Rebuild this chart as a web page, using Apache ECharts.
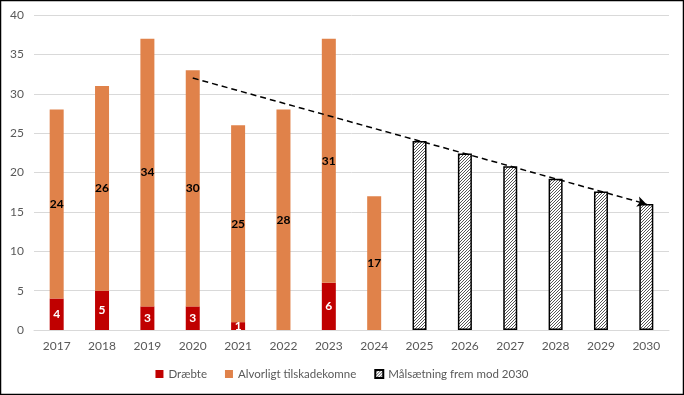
<!DOCTYPE html>
<html><head><meta charset="utf-8">
<script src="https://cdn.jsdelivr.net/npm/echarts@6/dist/echarts.min.js"></script>
<style>html,body{margin:0;padding:0;background:#fff}#c{width:684px;height:395px}</style>
</head><body><div id="c"></div>
<script>
const years = ['2017','2018','2019','2020','2021','2022','2023','2024','2025','2026','2027','2028','2029','2030'];
const killed = [4,5,3,3,1,0,6,0,null,null,null,null,null,null];
const injured = [24,26,34,30,25,28,31,17,null,null,null,null,null,null];
const target = [null,null,null,null,null,null,null,null,24,22.4,20.8,19.2,17.6,16];
const trendStart = ['2020',32];
const trendEnd = ['2030',16];
const yTicks = {min:0,max:40,interval:5};

const pc = document.createElement('canvas');
pc.width = 3; pc.height = 3;
const g = pc.getContext('2d');
g.fillStyle = '#fff'; g.fillRect(0,0,3,3);
g.strokeStyle = '#444'; g.lineWidth = 0.9;
g.beginPath();
g.moveTo(-1,4); g.lineTo(4,-1);
g.moveTo(-1,1); g.lineTo(1,-1);
g.moveTo(2,4); g.lineTo(4,2);
g.stroke();

const font = 'Lato, "Liberation Sans", sans-serif';
const chart = echarts.init(document.getElementById('c'));
chart.setOption({
  animation:false,
  textStyle:{fontFamily:font},
  graphic:[{type:'rect',shape:{x:0.5,y:0.5,width:683,height:394},style:{fill:'none',stroke:'#000',lineWidth:1.5},z:100}],
  grid:{left:34,right:15,top:15,bottom:65},
  legend:{bottom:10,left:'center',itemWidth:8,itemHeight:8,itemGap:18,
    textStyle:{fontFamily:font,fontSize:11.5,color:'#595959'},
    data:[{name:'Dræbte',icon:'rect'},{name:'Alvorligt tilskadekomne',icon:'rect'},{name:'Målsætning frem mod 2030',icon:'rect'}]},
  xAxis:{type:'category',data:years,axisTick:{show:false},
    axisLine:{lineStyle:{color:'#d9d9d9',width:1}},
    axisLabel:{color:'#595959',fontSize:12,margin:10}},
  yAxis:{type:'value',min:yTicks.min,max:yTicks.max,interval:yTicks.interval,
    axisLine:{show:false},axisTick:{show:false},
    splitLine:{lineStyle:{color:'#d9d9d9',width:1}},
    axisLabel:{color:'#595959',fontSize:12,margin:10}},
  series:[
    {name:'Dræbte',type:'bar',stack:'a',barWidth:14,data:killed,
      itemStyle:{color:'#C00000'},
      label:{show:true,position:'inside',color:'#fff',fontWeight:'bold',fontSize:12,
        formatter:p=>p.value? p.value : ''}},
    {name:'Alvorligt tilskadekomne',type:'bar',stack:'a',barWidth:14,data:injured,
      itemStyle:{color:'#E0824A'},
      label:{show:true,position:'inside',color:'#000',fontWeight:'bold',fontSize:12,
        formatter:p=>p.value? p.value : ''}},
    {name:'Målsætning frem mod 2030',type:'bar',stack:'a',barWidth:14,data:target,
      itemStyle:{color:{image:pc,repeat:'repeat'},borderColor:'#000',borderWidth:1.5},
      markLine:{silent:true,symbol:['none','arrow'],symbolSize:[8,9],
        label:{show:false},
        lineStyle:{color:'#000',type:[6,4],width:1.5},
        data:[[{coord:trendStart},{coord:trendEnd}]]}}
  ]
});
</script></body></html>
